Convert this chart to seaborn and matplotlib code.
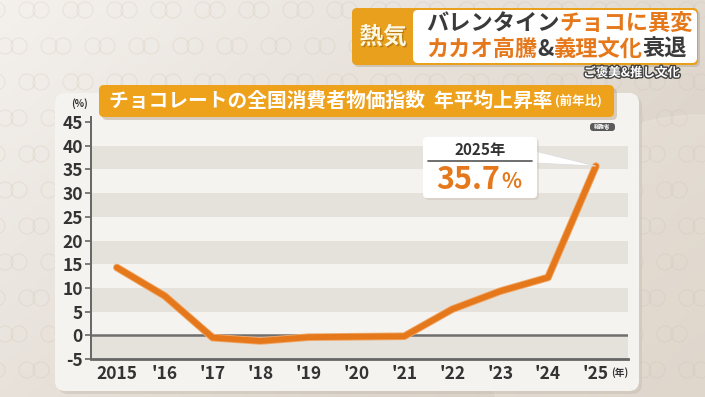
import numpy as np
import matplotlib
matplotlib.use("Agg")
import matplotlib.pyplot as plt
import matplotlib.patheffects as pe
from matplotlib.patches import FancyBboxPatch, Polygon, Circle
import seaborn as sns

# data
years = [2015, 2016, 2017, 2018, 2019, 2020, 2021, 2022, 2023, 2024, 2025]
rate = [14.3, 8.3, -0.5, -1.2, -0.4, -0.3, -0.2, 5.5, 9.3, 12.2, 35.7]
year_labels = ['2015', "'16", "'17", "'18", "'19", "'20", "'21", "'22", "'23", "'24", "'25"]
y_ticks = [-5, 0, 5, 10, 15, 20, 25, 30, 35, 40, 45]
gray_bands = [(-5, 0), (5, 10), (15, 20), (25, 30), (35, 40)]

ORANGE = '#e6781c'
TITLE_ORANGE = '#eea11b'
DARK = '#333333'
W, H = 705, 397
NUMFONT = ['Noto Sans CJK JP', 'DejaVu Sans']

sns.set_theme(style='white')
plt.rcParams['font.family'] = ['Noto Sans CJK JP', 'DejaVu Sans']
plt.rcParams['font.weight'] = 'bold'

fig = plt.figure(figsize=(W / 100, H / 100), dpi=100)

# background layer in pixel coordinates
bg = fig.add_axes([0, 0, 1, 1], zorder=0)
bg.set_xlim(0, W)
bg.set_ylim(H, 0)
bg.axis('off')
gx, gy = np.meshgrid(np.linspace(0, 1, 200), np.linspace(0, 1, 120))
grad = (gx * 0.6 + gy * 0.4)
bg.imshow(grad, extent=(0, W, H, 0), aspect='auto',
          cmap=matplotlib.colors.LinearSegmentedColormap.from_list('bgc', ['#f4f1ed', '#d5cbbf']),
          zorder=0)
bg.add_patch(Circle((700, 330), 215, color='#ece5dc', alpha=0.45, zorder=1))
# ring texture
for i, cy in enumerate(range(10, H, 36)):
    for j, cx in enumerate(range(-10 + (i % 2) * 22, W, 44)):
        for dx in (-7, 7):
            bg.add_patch(Circle((cx + dx, cy), 8, fill=False, ec='#c9b9a6', lw=0.8, alpha=0.22, zorder=1))
# chart panel
bg.add_patch(FancyBboxPatch((58, 96), 584, 298, boxstyle='round,pad=0,rounding_size=10',
                            fc='#c9bfb3', ec='none', alpha=0.5, zorder=2))
bg.add_patch(FancyBboxPatch((55, 93), 584, 298, boxstyle='round,pad=0,rounding_size=10',
                            fc='#f5f3ef', ec='none', zorder=3))

# main chart
ax = fig.add_axes([91 / W, 1 - 359 / H, (628 - 91) / W, (359 - 117.3) / H], zorder=1)
ax.patch.set_alpha(0)
for lo, hi in gray_bands:
    ax.axhspan(lo, hi, color='#e5e2dc', lw=0, zorder=0)
ax.axhline(0, color='#6f6f6f', lw=1.8, zorder=1)
sns.lineplot(x=years, y=rate, ax=ax, color=ORANGE, lw=4.2, zorder=3,
             solid_capstyle='round', solid_joinstyle='round',
             path_effects=[pe.Stroke(linewidth=5.5, foreground='#f0a868'), pe.Normal()])
ax.set_xlim(2014.46, 2025.67)
ax.set_ylim(-5, 46)
ax.set_yticks(y_ticks)
ax.set_yticklabels([str(v) for v in y_ticks], fontsize=12.5, color=DARK,
                   family=NUMFONT, fontweight='bold')
ax.set_xticks(years)
ax.set_xticklabels(year_labels, fontsize=12.5, color=DARK,
                   family=NUMFONT, fontweight='bold')
ax.tick_params(axis='y', direction='out', length=4, width=1.2, color='#666666', pad=2, left=True)
ax.tick_params(axis='x', length=0, pad=4)
for s in ['top', 'right']:
    ax.spines[s].set_visible(False)
ax.spines['left'].set_color('#666666')
ax.spines['left'].set_linewidth(1.4)
ax.spines['bottom'].set_color('#666666')
ax.spines['bottom'].set_linewidth(2)
ax.set_xlabel('')
ax.set_ylabel('')

# overlay layer in pixel coordinates
fg = fig.add_axes([0, 0, 1, 1], zorder=2)
fg.set_xlim(0, W)
fg.set_ylim(H, 0)
fg.axis('off')
fg.patch.set_alpha(0)

fg.text(80, 104, '(%)', fontsize=7, color=DARK, ha='center', va='center', family=NUMFONT)
fg.text(611, 373, '(年)', fontsize=7, color=DARK, ha='left', va='center')

# title bar
fg.add_patch(FancyBboxPatch((102, 88), 515, 32, boxstyle='round,pad=0,rounding_size=5',
                            fc='#b9a48a', ec='none', alpha=0.5))
fg.add_patch(FancyBboxPatch((99, 85), 515, 32, boxstyle='round,pad=0,rounding_size=5',
                            fc=TITLE_ORANGE, ec='none'))
t = fg.text(109, 101, 'チョコレートの全国消費者物価指数  年平均上昇率', fontsize=14.2,
            color='white', ha='left', va='center', fontweight='bold')
fg.annotate('(前年比)', xy=(1, 0.5), xycoords=t, xytext=(2, 0), textcoords='offset points',
            fontsize=9, color='white', ha='left', va='center', fontweight='bold')

# source badge
fg.add_patch(FancyBboxPatch((590, 123), 25, 8, boxstyle='round,pad=0,rounding_size=3',
                            fc='#5b5b5b', ec='none'))
fg.text(602.5, 127, '総務省', fontsize=4, color='white', ha='center', va='center')

# callout for the last point
tip = fg.transData.inverted().transform(ax.transData.transform((years[-1], rate[-1])))
fg.add_patch(Polygon([(535, 151), tip, (535, 163)], closed=True, fc='white', ec='#dddddd', lw=0.6))
fg.add_patch(FancyBboxPatch((425, 139), 114, 61, boxstyle='round,pad=0,rounding_size=4',
                            fc='#cfc6bb', ec='none', alpha=0.5))
fg.add_patch(FancyBboxPatch((423, 137), 114, 61, boxstyle='round,pad=0,rounding_size=4',
                            fc='white', ec='none'))
fg.plot([428, 532], [161, 161], color='#555555', lw=1.2)
fg.text(480, 150, f'{years[-1]}年', fontsize=11, color=DARK, ha='center', va='center', family=NUMFONT)
fg.text(500, 180, f'{rate[-1]}', fontsize=22, color=ORANGE, ha='right', va='center',
        family=NUMFONT, fontweight='bold')
fg.text(501, 182, '%', fontsize=15, color=ORANGE, ha='left', va='center',
        family=NUMFONT, fontweight='bold')

# headline box
fg.add_patch(FancyBboxPatch((354, 10), 346, 57, boxstyle='round,pad=0,rounding_size=5',
                            fc='#b8a995', ec='none', alpha=0.5))
fg.add_patch(FancyBboxPatch((352, 8), 346, 57, boxstyle='round,pad=0,rounding_size=5',
                            fc='#e9a01c', ec='none'))
fg.add_patch(FancyBboxPatch((413, 10), 284, 53, boxstyle='round,pad=0,rounding_size=5',
                            fc='white', ec='none'))
fg.text(383, 37, '熱気', fontsize=17, color='#fff8e0', ha='center', va='center', fontweight='bold',
        path_effects=[pe.withSimplePatchShadow(offset=(1, -1), shadow_rgbFace='#a0650a', alpha=0.6)])


def seq(x, y, parts, size):
    prev = None
    for s, c in parts:
        if prev is None:
            prev = fg.text(x, y, s, fontsize=size, color=c, ha='left', va='center', fontweight='bold')
        else:
            prev = fg.annotate(s, xy=(1, 0.5), xycoords=prev, xytext=(0, 0), textcoords='offset points',
                               fontsize=size, color=c, ha='left', va='center', fontweight='bold')


seq(426, 24, [('バレンタイン', '#3a3a3a'), ('チョコに異変', ORANGE)], 16)
seq(426, 49, [('カカオ高騰', ORANGE), ('&', '#3a3a3a'), ('義理文化', ORANGE), ('衰退', '#3a3a3a')], 16)
fg.text(680, 73, 'ご褒美&推し文化', fontsize=9, color='white', ha='right', va='center',
        fontweight='bold', path_effects=[pe.Stroke(linewidth=2, foreground='#444444'), pe.Normal()])

fig.savefig('out.png', dpi=100)
